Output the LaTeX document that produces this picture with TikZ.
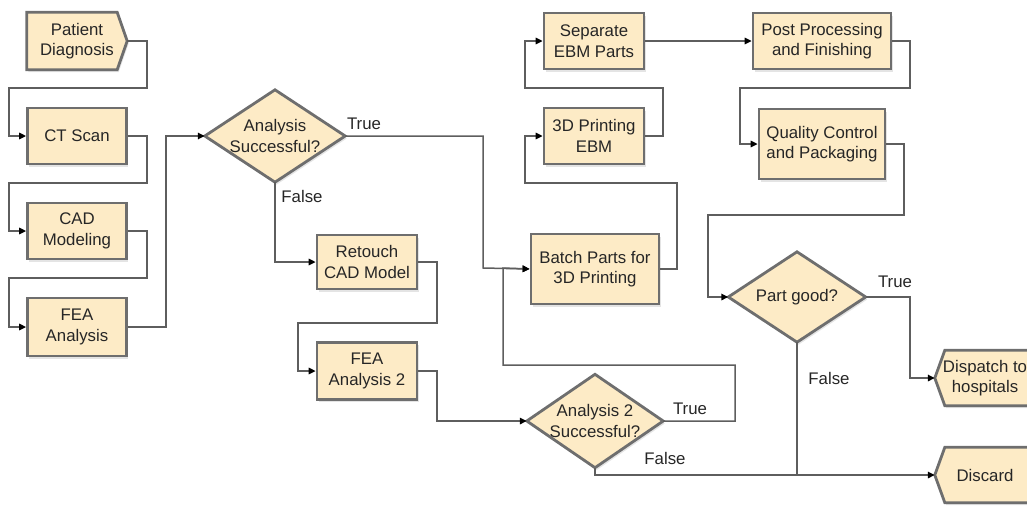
\documentclass[tikz,border=0pt]{standalone}
\usepackage{fontspec}
\setmainfont{Liberation Sans}
\usetikzlibrary{arrows.meta,shadows,calc,backgrounds}
\definecolor{boxfill}{HTML}{FDEBC6}
\definecolor{boxline}{HTML}{6E6E6E}
\definecolor{wire}{HTML}{5E5E5E}
\definecolor{txt}{HTML}{262626}
\begin{document}
\begin{tikzpicture}[x=1pt,y=-1pt,
  font=\fontsize{16.8}{20.5}\selectfont,
  boxshadow/.style={drop shadow={shadow xshift=1.5pt,shadow yshift=-2.5pt,fill=black!35,opacity=0.3}},
  outline/.style={draw=boxline,fill=boxfill,line width=2.8pt,line join=miter,boxshadow},
  proc/.style={rectangle,outline,inner sep=0pt,align=center,text=txt},
  holder/.style={rectangle,inner sep=0pt,align=center,text=txt},
  conn/.style={draw=wire,line width=1.5pt,-{Triangle[length=7pt,width=6.5pt,color=black]}},
  plain/.style={draw=wire,line width=1.5pt},
  lbl/.style={text=txt,inner sep=0pt}]
\useasboundingbox (0,0) rectangle (1027,506);

% nodes
\node[holder,minimum width=100,minimum height=57] (pd) at (77,41) {Patient\\Diagnosis};
\node[proc,minimum width=99,minimum height=56] (ct) at (77,136) {CT Scan};
\node[proc,minimum width=99,minimum height=56] (cad) at (77,231) {CAD\\Modeling};
\node[proc,minimum width=99,minimum height=58] (fea) at (77,327) {FEA\\Analysis};
\node[holder,minimum width=140,minimum height=92] (d1) at (275,136) {Analysis\\Successful?};
\node[proc,minimum width=100,minimum height=54] (ret) at (367,262) {Retouch\\CAD Model};
\node[proc,minimum width=100,minimum height=57] (fea2) at (367,371) {FEA\\Analysis 2};
\node[holder,minimum width=136,minimum height=93] (d2) at (595,421) {Analysis 2\\Successful?};
\node[proc,minimum width=128,minimum height=70] (batch) at (595,269) {Batch Parts for\\3D Printing};
\node[proc,minimum width=100,minimum height=56] (print) at (594,136) {3D Printing\\EBM};
\node[proc,minimum width=100,minimum height=56] (sep) at (594,41) {Separate\\EBM Parts};
\node[proc,minimum width=138,minimum height=56] (post) at (822,41) {Post Processing\\and Finishing};
\node[proc,minimum width=126,minimum height=70] (qc) at (822,144) {Quality Control\\and Packaging};
\node[holder,minimum width=137,minimum height=90] (d3) at (797,297) {Part good?};
\node[holder,minimum width=100,minimum height=55] (disp) at (985,378) {Dispatch to\\hospitals};
\node[holder,minimum width=100,minimum height=55] (disc) at (985,475) {Discard};
\coordinate (j) at (797,475);

\begin{scope}[on background layer]
\draw[outline] (pd.north west) -- ($(pd.north east)+(-10,0)$) -- (pd.east)
  -- ($(pd.south east)+(-10,0)$) -- (pd.south west) -- cycle;
\draw[outline] (disp.west) -- ($(disp.north west)+(10,0)$) -- (disp.north east)
  -- (disp.south east) -- ($(disp.south west)+(10,0)$) -- cycle;
\draw[outline] (disc.west) -- ($(disc.north west)+(10,0)$) -- (disc.north east)
  -- (disc.south east) -- ($(disc.south west)+(10,0)$) -- cycle;
\foreach \d in {d1,d2,d3}
  \draw[outline] (\d.west) -- (\d.north) -- (\d.east) -- (\d.south) -- cycle;
\end{scope}

% connectors
\draw[conn] (pd.east) -- (147,41) |- (9,88) |- (ct.west);
\draw[conn] (ct.east) -| (147,183) -- (9,183) |- (cad.west);
\draw[conn] (cad.east) -| (147,278) -- (9,278) |- (fea.west);
\draw[conn] (fea.east) -| (166,136) -- (d1.west);
\draw[conn] (d1.east) -| (483,268) -- (batch.west);
\draw[conn] (d1.south) |- (ret.west);
\draw[conn] (ret.east) -| (437,323) -- (298,323) |- (fea2.west);
\draw[conn] (fea2.east) -- (437,371) |- (d2.west);
\draw[conn] (d2.east) -| (735,365) -| (503,268) -- (batch.west);
\draw[conn] (d2.south) |- (disc.west);
\draw[conn] (batch.east) -| (677,183) -- (525,183) |- (print.west);
\draw[conn] (print.east) -| (663,88) -- (525,88) |- (sep.west);
\draw[conn] (sep.east) -- (post.west);
\draw[conn] (post.east) -| (910,88) -- (740,88) |- (qc.west);
\draw[conn] (qc.east) -| (904,215) -- (708,215) |- (d3.west);
\draw[conn] (d3.east) -- (910,297) |- (disp.west);
\draw[plain] (d3.south) -- (j);

% labels
\node[lbl] (t1) at (364,124) {True};
\node[lbl] (f1) at (302,196) {False};
\node[lbl] (t2) at (690,409) {True};
\node[lbl] (f2) at (665,458) {False};
\node[lbl] (t3) at (895,282) {True};
\node[lbl] (f3) at (829,378) {False};
\end{tikzpicture}
\end{document}
